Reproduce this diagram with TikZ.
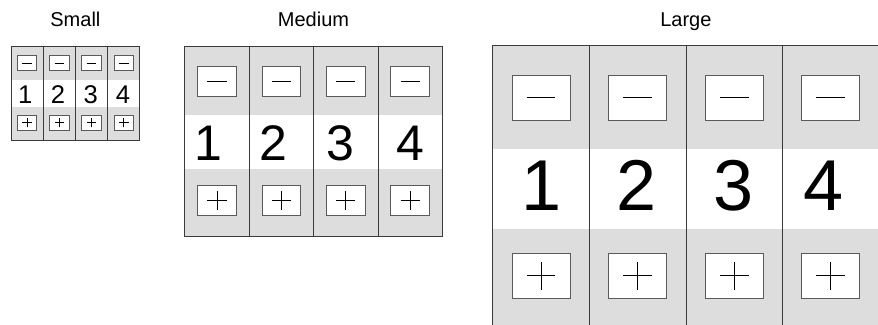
\documentclass[tikz,border=0pt]{standalone}
\usepackage{fontspec}
\setmainfont{Liberation Sans}
\definecolor{padgray}{HTML}{DDDDDD}
\definecolor{edgegray}{HTML}{3A3A3A}
\definecolor{btngray}{HTML}{5A5A5A}

\begin{document}
\begin{tikzpicture}[
    x=1pt, y=-1pt,
    title/.style={anchor=base, inner sep=0pt, font=\fontsize{20}{20}\selectfont},
    btn/.style={rectangle, draw=btngray, fill=white, line width=0.8pt, inner sep=0pt},
    digit/.style={anchor=base, inner sep=0pt},
    sign/.style={line width=0.7pt},
    edge/.style={draw=edgegray, line width=0.8pt},
]
\clip (0,0) rectangle (878,324);
% one keypad per size: name/left/top/unit/digit size/digit baseline/digit shifts/title
\foreach \nm/\px/\py/\u/\fs/\bl/\dxs/\lbl in {
    s/11/46/1/25.6/103.3/{-1.8,-1.2,-0.7,-0.8}/Small,
    m/184.7/46.7/2/50/160.7/{-8,-8,-5,0}/Medium,
    l/492.7/45.7/3/72/210/{1,-0.8,-0.5,-7.2}/Large}{
  \pgfmathsetmacro{\cw}{32.2*\u}
  \pgfmathsetmacro{\xr}{\px+4*\cw}
  \pgfmathsetmacro{\ya}{\py+34.3*\u}
  \pgfmathsetmacro{\yb}{\ya+26.8*\u}
  \pgfmathsetmacro{\yc}{\yb+33.5*\u}
  % grey rows
  \fill[padgray] (\px,\py) rectangle (\xr,\ya);
  \fill[padgray] (\px,\yb) rectangle (\xr,\yc);
  \node[title] (\nm-title) at ({\px+2*\cw},27) {\lbl};
  \foreach \i in {1,...,4}{
    \pgfmathsetmacro{\cx}{\px+(\i-0.5)*\cw}
    \pgfmathsetmacro{\dx}{{\dxs}[\i-1]}
    \node[btn, minimum width=19.3pt*\u, minimum height=15.1pt*\u] (\nm-minus-\i) at (\cx,{\py+17.3*\u}) {};
    \draw[sign] ([xshift=-4.8pt*\u]\nm-minus-\i.center) -- ([xshift=4.8pt*\u]\nm-minus-\i.center);
    \node[digit, font=\fontsize{\fs}{\fs}\selectfont] (\nm-digit-\i) at ({\cx+\dx},\bl) {\i};
    \node[btn, minimum width=19.3pt*\u, minimum height=15.1pt*\u] (\nm-plus-\i) at (\cx,{\yb+15.6*\u}) {};
    \draw[sign] ([xshift=-4.8pt*\u]\nm-plus-\i.center) -- ([xshift=4.8pt*\u]\nm-plus-\i.center);
    \draw[sign] ([yshift=-4.7pt*\u]\nm-plus-\i.center) -- ([yshift=4.7pt*\u]\nm-plus-\i.center);
  }
  % frame and column lines
  \draw[edge] (\px,\py) rectangle (\xr,\yc);
  \foreach \k in {1,2,3}
    \draw[edge] ({\px+\k*\cw},\py) -- ({\px+\k*\cw},\yc);
}
\end{tikzpicture}
\end{document}
